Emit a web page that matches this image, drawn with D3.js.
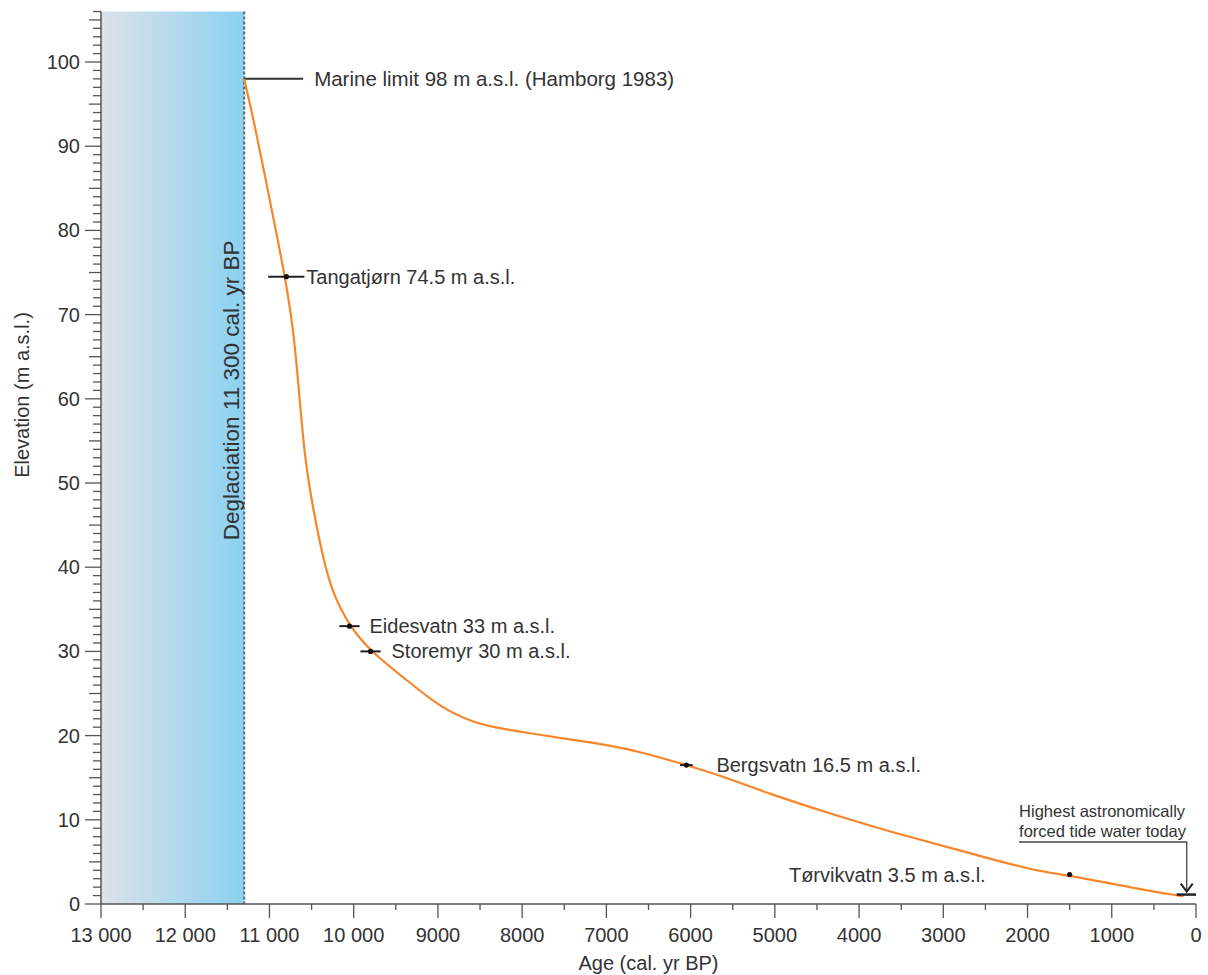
<!DOCTYPE html>
<html>
<head>
<meta charset="utf-8">
<script src="https://cdn.jsdelivr.net/npm/d3@7"></script>
<style>
  body { margin: 0; background: #fff; }
  text { font-family: "Liberation Sans", Arial, sans-serif; fill: #333; }
</style>
</head>
<body>
<svg id="chart" width="1208" height="975"></svg>
<script>
// curve: age (cal. yr BP) and elevation (m a.s.l.)
var curveAge  = [11300, 11170, 11050, 10930, 10815, 10720, 10660, 10580, 10480, 10360, 10250, 10050, 9800, 9370, 8980, 8580, 8180, 7790, 7400, 7000, 6600, 6050, 5600, 5100, 4300, 3500, 2700, 1950, 1500, 750, 150];
var curveElev = [98, 92.3, 86.3, 80.3, 74.5, 68.5, 62.2, 52.7, 46.8, 40.9, 36.9, 33, 30, 26.6, 23.4, 21.5, 20.7, 20.1, 19.5, 18.9, 18.1, 16.5, 15.1, 13.2, 10.6, 8.2, 6.1, 4.0, 3.4, 1.9, 0.9];

// dated lake basins
var siteNames = ["Tangatjørn 74.5 m a.s.l.", "Eidesvatn 33 m a.s.l.", "Storemyr 30 m a.s.l.", "Bergsvatn 16.5 m a.s.l.", "Tørvikvatn 3.5 m a.s.l."];
var siteAge   = [10800, 10050, 9800, 6050, 1500];
var siteElev  = [74.5, 33, 30, 16.5, 3.5];
var siteErr   = [215, 120, 120, 75, 0];

var xTicks = [13000, 12000, 11000, 10000, 9000, 8000, 7000, 6000, 5000, 4000, 3000, 2000, 1000, 0];
var yTicks = [0, 10, 20, 30, 40, 50, 60, 70, 80, 90, 100];

var deglaciation = 11300;
var marineLimit = 98;
var tideLevel = 1;

var svg = d3.select("#chart");

var x = d3.scaleLinear().domain([13000, 0]).range([101, 1196]);
var y = d3.scaleLinear().domain([0, 106]).range([904, 11.5]);

// shaded ice-covered interval
var defs = svg.append("defs");
var grad = defs.append("linearGradient").attr("id", "ice").attr("x1", "0").attr("x2", "1").attr("y1", "0").attr("y2", "0");
grad.append("stop").attr("offset", "0%").attr("stop-color", "#dde2e8");
grad.append("stop").attr("offset", "100%").attr("stop-color", "#8bd1f0");

svg.append("rect")
    .attr("x", x(13000))
    .attr("y", y(106))
    .attr("width", x(deglaciation) - x(13000))
    .attr("height", y(0) - y(106))
    .attr("fill", "url(#ice)");

svg.append("line")
    .attr("x1", x(deglaciation)).attr("x2", x(deglaciation))
    .attr("y1", y(106)).attr("y2", y(0))
    .attr("stroke", "#5a6670").attr("stroke-width", 2)
    .attr("stroke-dasharray", "3,2");

svg.append("text")
    .attr("transform", "translate(" + (x(deglaciation) - 5) + "," + y(61) + ") rotate(-90)")
    .attr("text-anchor", "middle")
    .attr("font-size", "22.5px")
    .text("Deglaciation 11 300 cal. yr BP");

// y axis with 1 m minor ticks
var gy = svg.append("g").attr("transform", "translate(" + x(13000) + ",0)");
gy.append("line").attr("y1", y(106)).attr("y2", y(0)).attr("stroke", "#555").attr("stroke-width", 1.5);
gy.selectAll("line.tick")
    .data(d3.range(0, 107))
    .enter().append("line")
    .attr("class", "tick")
    .attr("x1", function(d) { return d % 10 == 0 ? -16 : (d % 5 == 0 ? -12 : -8); })
    .attr("x2", 0)
    .attr("y1", function(d) { return y(d); })
    .attr("y2", function(d) { return y(d); })
    .attr("stroke", "#555").attr("stroke-width", 1.3);
gy.selectAll("text.lbl")
    .data(yTicks)
    .enter().append("text")
    .attr("class", "lbl")
    .attr("x", -21)
    .attr("y", function(d) { return y(d); })
    .attr("dy", "0.35em")
    .attr("text-anchor", "end")
    .attr("font-size", "20px")
    .text(function(d) { return d; });

// x axis
var fmt = function(d) { return d >= 10000 ? Math.floor(d / 1000) + " 000" : String(d); };
var gx = svg.append("g").attr("transform", "translate(0," + y(0) + ")");
gx.append("line").attr("x1", x(13000)).attr("x2", x(0)).attr("stroke", "#555").attr("stroke-width", 1.5);
gx.selectAll("line.tick")
    .data(d3.range(0, 13001, 500))
    .enter().append("line")
    .attr("class", "tick")
    .attr("x1", function(d) { return x(d); })
    .attr("x2", function(d) { return x(d); })
    .attr("y1", 0)
    .attr("y2", function(d) { return d % 1000 == 0 ? 14 : 6; })
    .attr("stroke", "#555").attr("stroke-width", 1.3);
gx.selectAll("text.lbl")
    .data(xTicks)
    .enter().append("text")
    .attr("class", "lbl")
    .attr("x", function(d) { return x(d); })
    .attr("y", 38)
    .attr("text-anchor", "middle")
    .attr("font-size", "20px")
    .text(fmt);

svg.append("text")
    .attr("x", (x(13000) + x(0)) / 2)
    .attr("y", 970)
    .attr("text-anchor", "middle")
    .attr("font-size", "20px")
    .text("Age (cal. yr BP)");

svg.append("text")
    .attr("transform", "translate(29,395) rotate(-90)")
    .attr("text-anchor", "middle")
    .attr("font-size", "20px")
    .text("Elevation (m a.s.l.)");

// marine limit
svg.append("line")
    .attr("x1", x(deglaciation)).attr("x2", x(10600))
    .attr("y1", y(marineLimit)).attr("y2", y(marineLimit))
    .attr("stroke", "#333").attr("stroke-width", 2);
svg.append("text")
    .attr("x", x(10600) + 11)
    .attr("y", y(marineLimit))
    .attr("dy", "0.35em")
    .attr("font-size", "20.5px")
    .text("Marine limit 98 m a.s.l. (Hamborg 1983)");

// shoreline displacement curve
var pts = curveAge.map(function(a, i) { return [a, curveElev[i]]; });
svg.append("path")
    .datum(pts)
    .attr("fill", "none")
    .attr("stroke", "#f7862b")
    .attr("stroke-width", 2.2)
    .attr("d", d3.line()
        .x(function(d) { return x(d[0]); })
        .y(function(d) { return y(d[1]); })
        .curve(d3.curveBasis));

// sites: error bars, dots and labels
var sites = siteNames.map(function(n, i) {
    return { name: n, age: siteAge[i], elev: siteElev[i], err: siteErr[i] };
});
var gs = svg.append("g");
gs.selectAll("line.err")
    .data(sites.filter(function(d) { return d.err > 0; }))
    .enter().append("line")
    .attr("class", "err")
    .attr("x1", function(d) { return x(d.age + d.err); })
    .attr("x2", function(d) { return x(d.age - d.err); })
    .attr("y1", function(d) { return y(d.elev); })
    .attr("y2", function(d) { return y(d.elev); })
    .attr("stroke", "#222").attr("stroke-width", 2);
gs.selectAll("circle")
    .data(sites)
    .enter().append("circle")
    .attr("cx", function(d) { return x(d.age); })
    .attr("cy", function(d) { return y(d.elev); })
    .attr("r", 2.6)
    .attr("fill", "#111");

// label offsets from the dot, in px (last one is right-aligned)
var labelDx = [20, 20, 21, 30, -84];
gs.selectAll("text")
    .data(sites)
    .enter().append("text")
    .attr("x", function(d, i) { return x(d.age) + labelDx[i]; })
    .attr("y", function(d) { return y(d.elev); })
    .attr("dy", "0.35em")
    .attr("text-anchor", function(d, i) { return labelDx[i] < 0 ? "end" : "start"; })
    .attr("font-size", "20px")
    .text(function(d) { return d.name; });

// highest astronomical tide marker
svg.append("line")
    .attr("x1", x(230)).attr("x2", x(0))
    .attr("y1", y(tideLevel) - 1).attr("y2", y(tideLevel) - 1)
    .attr("stroke", "#222").attr("stroke-width", 2.5);
var ax = x(110);
svg.append("path")
    .attr("d", "M" + x(2100) + "," + 842 + "H" + ax + "V" + (y(tideLevel) - 4))
    .attr("fill", "none").attr("stroke", "#444").attr("stroke-width", 1.3);
svg.append("path")
    .attr("d", "M" + (ax - 6) + "," + (y(tideLevel) - 12) + "L" + ax + "," + (y(tideLevel) - 4) + "L" + (ax + 6) + "," + (y(tideLevel) - 12))
    .attr("fill", "none").attr("stroke", "#222").attr("stroke-width", 2);
svg.append("text")
    .attr("x", x(2100))
    .attr("y", 817)
    .attr("font-size", "16.5px")
    .text("Highest astronomically");
svg.append("text")
    .attr("x", x(2100))
    .attr("y", 837)
    .attr("font-size", "16.5px")
    .text("forced tide water today");
</script>
</body>
</html>
